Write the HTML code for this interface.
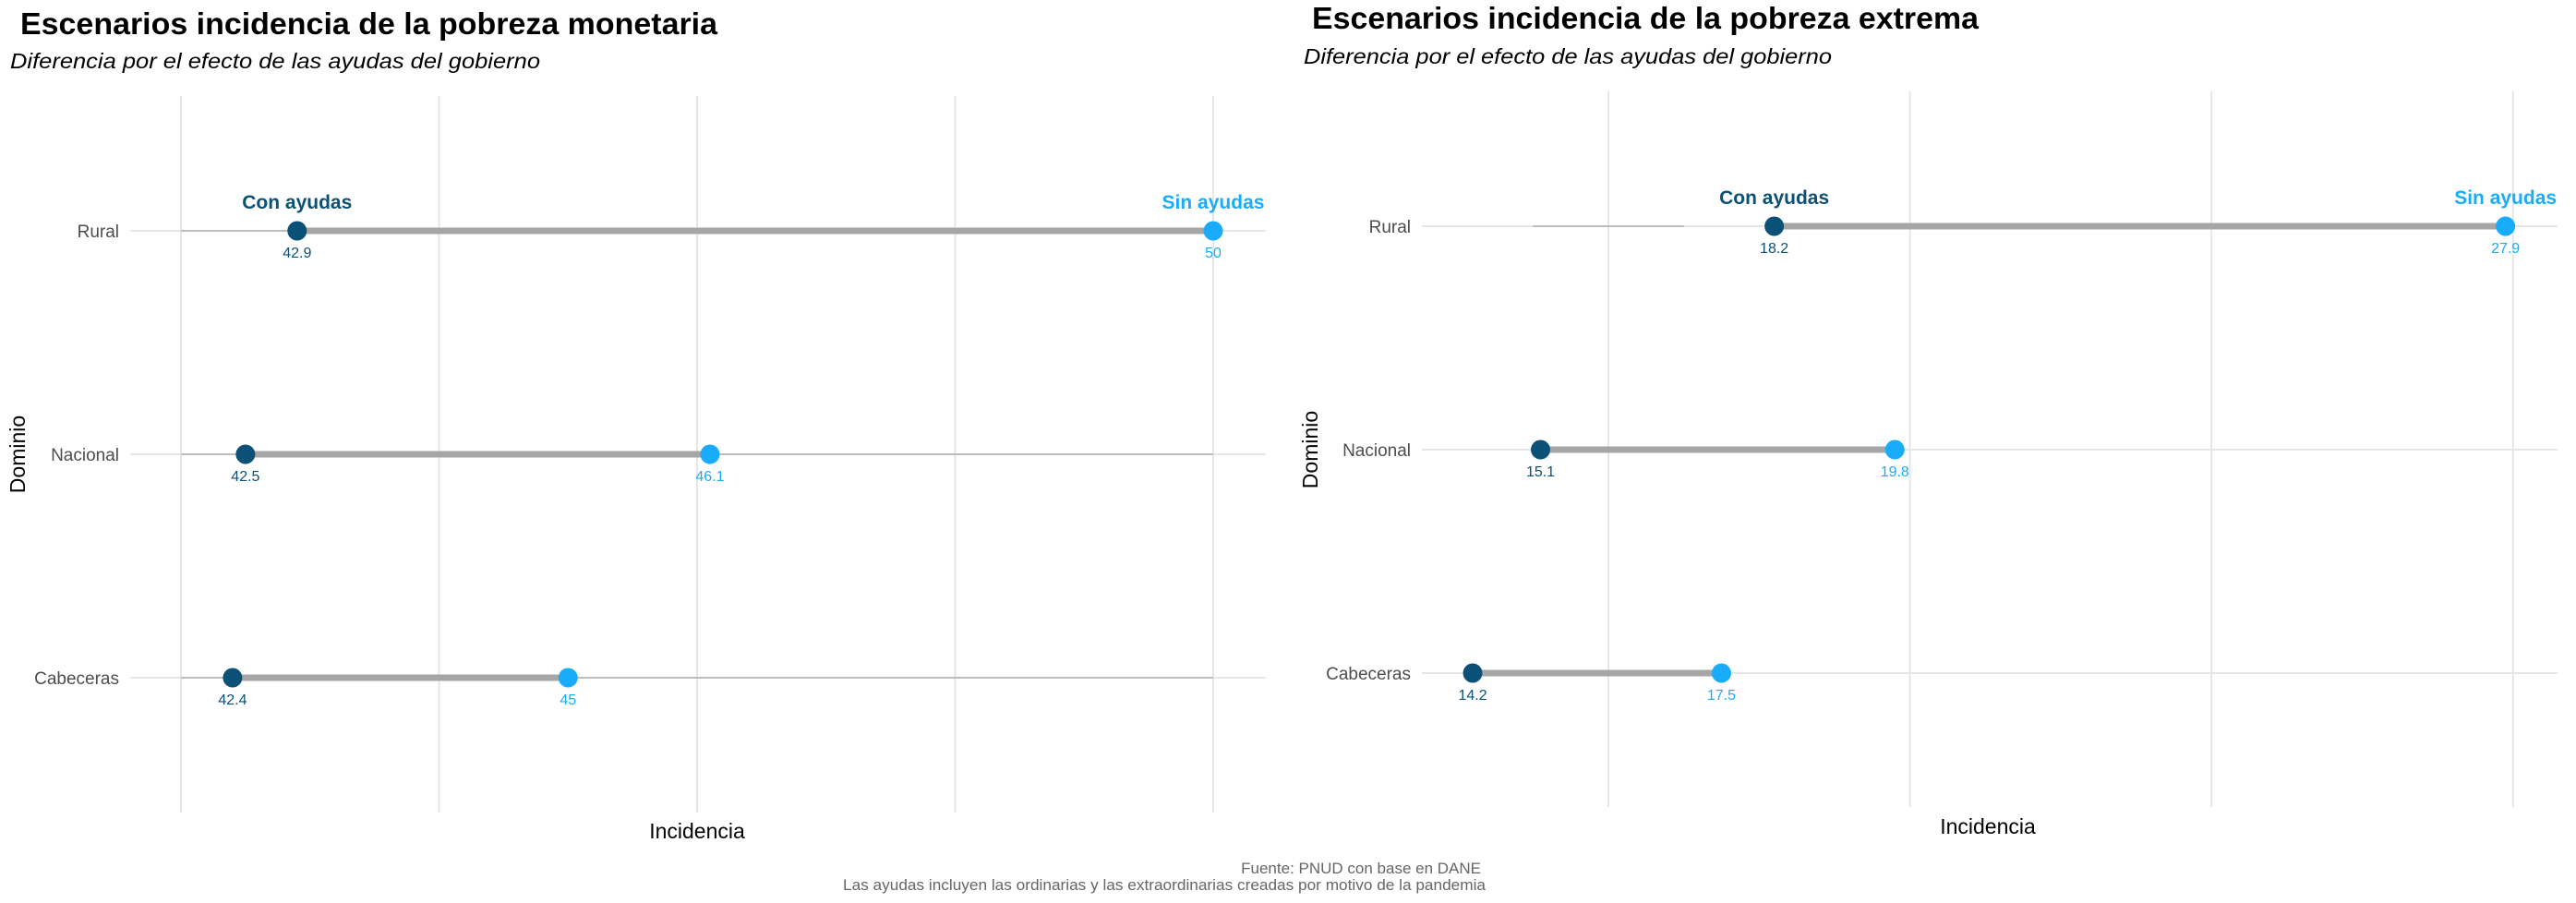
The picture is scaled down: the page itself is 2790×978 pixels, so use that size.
<!DOCTYPE html>
<html><head><meta charset="utf-8"><style>
html,body{margin:0;padding:0;background:#fff;}
svg{display:block;font-family:"Liberation Sans",Arial,sans-serif;}
</style></head><body>
<svg id="chart" width="2790" height="978" viewBox="0 0 2790 978" xmlns="http://www.w3.org/2000/svg">
<g id="p1">
<text x="22" y="37" font-size="33" font-weight="bold" fill="#000" textLength="755" lengthAdjust="spacingAndGlyphs">Escenarios incidencia de la pobreza monetaria</text>
<text x="11" y="74" font-size="23" font-style="italic" fill="#000" textLength="574" lengthAdjust="spacingAndGlyphs">Diferencia por el efecto de las ayudas del gobierno</text>
<text x="755" y="908" font-size="23" text-anchor="middle" fill="#000">Incidencia</text>
<text transform="translate(27,492) rotate(-90)" font-size="23" text-anchor="middle" fill="#000">Dominio</text>
</g>
<g id="p2">
<text x="1421" y="31" font-size="33" font-weight="bold" fill="#000" textLength="722" lengthAdjust="spacingAndGlyphs">Escenarios incidencia de la pobreza extrema</text>
<text x="1412" y="69" font-size="23" font-style="italic" fill="#000" textLength="572" lengthAdjust="spacingAndGlyphs">Diferencia por el efecto de las ayudas del gobierno</text>
<text x="2153" y="903" font-size="23" text-anchor="middle" fill="#000">Incidencia</text>
<text transform="translate(1427,487) rotate(-90)" font-size="23" text-anchor="middle" fill="#000">Dominio</text>
</g>
<text x="1604" y="946" font-size="17" fill="#666" text-anchor="end">Fuente: PNUD con base en  DANE</text>
<text x="913" y="964" font-size="17" fill="#666" textLength="696" lengthAdjust="spacingAndGlyphs">Las ayudas incluyen las  ordinarias y las extraordinarias creadas por motivo de  la pandemia</text>
</svg>
<script>
const categories = ["Rural", "Nacional", "Cabeceras"];
const monetariaCon = [42.9, 42.5, 42.4];
const monetariaSin = [50, 46.1, 45];
const extremaCon = [18.2, 15.1, 14.2];
const extremaSin = [27.9, 19.8, 17.5];
const monetariaTicks = [42, 44, 46, 48, 50];
const extremaTicks = [16, 20, 24, 28];

const NS = "http://www.w3.org/2000/svg";
function mk(parent, tag, attrs, text) {
  const e = document.createElementNS(NS, tag);
  for (const k in attrs) e.setAttribute(k, attrs[k]);
  if (text !== undefined) e.textContent = text;
  parent.appendChild(e);
  return e;
}
function drawPanel(g, cfg, con, sin, ticks) {
  const x = v => cfg.x0 + (v - cfg.v0) * cfg.k;
  const y = i => cfg.rows[0] + i * (cfg.rows[1] - cfg.rows[0]);
  ticks.forEach(t => {
    const l = mk(g, "line", {x1: x(t), x2: x(t), y1: cfg.gTop, y2: cfg.gBot, stroke: "#e6e6e6", "stroke-width": 2});
    
    
  });
  categories.forEach((c, i) => {
    const l = mk(g, "line", {x1: cfg.hx1, x2: cfg.hx2, y1: y(i), y2: y(i), stroke: "#e6e6e6", "stroke-width": 2});
    
    
    const t = mk(g, "text", {x: cfg.lblX, y: y(i) + 7, "font-size": 19, fill: "#4d4d4d", "text-anchor": "end"}, c);
    
    
    if (cfg.thin) {
      const a = cfg.thin(i);
      if (a) {
        const th = mk(g, "line", {x1: x(a[0]), x2: x(a[1]), y1: y(i), y2: y(i), stroke: "#bdbdbd", "stroke-width": 2});
        
        
      }
    }
  });
  categories.forEach((c, i) => {
    const seg = mk(g, "line", {x1: x(con[i]), x2: x(sin[i]), y1: y(i), y2: y(i), stroke: "#a6a6a6", "stroke-width": 7});
    
    
    const p1 = mk(g, "circle", {cx: x(con[i]), cy: y(i), r: 10.5, fill: "#0b5177"});
    
    
    const p2 = mk(g, "circle", {cx: x(sin[i]), cy: y(i), r: 10.5, fill: "#18acfb"});
    
    
    const t1 = mk(g, "text", {x: x(con[i]), y: y(i) + 29, "font-size": 16, fill: "#0b5177", "text-anchor": "middle"}, String(con[i]));
    
    
    const t2 = mk(g, "text", {x: x(sin[i]), y: y(i) + 29, "font-size": 16, fill: "#18acfb", "text-anchor": "middle"}, String(sin[i]));
    
    
  });
  const a = mk(g, "text", {x: x(con[0]), y: y(0) - 24, "font-size": 21, "font-weight": "bold", fill: "#0b5177", "text-anchor": "middle"}, "Con ayudas");
  
  
  const b = mk(g, "text", {x: x(sin[0]), y: y(0) - 24, "font-size": 21, "font-weight": "bold", fill: "#18acfb", "text-anchor": "middle"}, "Sin ayudas");
  
  
}
drawPanel(document.getElementById("p1"),
  {x0: 196, v0: 42, k: 139.75, rows: [250, 492], gTop: 104, gBot: 880, hx1: 141, hx2: 1371, lblX: 129,
   thin: i => [monetariaTicks[0], monetariaTicks[monetariaTicks.length - 1]]},
  monetariaCon, monetariaSin, monetariaTicks);
drawPanel(document.getElementById("p2"),
  {x0: 1742, v0: 16, k: 81.65, rows: [245, 487], gTop: 99, gBot: 874, hx1: 1540, hx2: 2770, lblX: 1528,
   thin: i => i === 0 ? [15.0, 17.0] : null},
  extremaCon, extremaSin, extremaTicks);
</script>
</body></html>
